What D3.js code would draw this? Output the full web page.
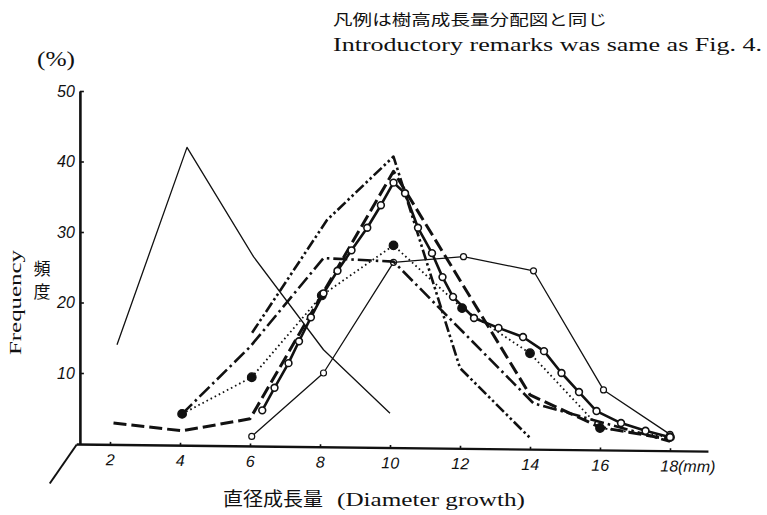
<!DOCTYPE html>
<html>
<head>
<meta charset="utf-8">
<script src="https://cdn.jsdelivr.net/npm/d3@7"></script>
<style>
  body { margin: 0; background: #fff; }
  text { fill: #111; }
</style>
</head>
<body>
<div class="svgWrapper"></div>
<script>
// Data //
const xTicks = [2, 4, 6, 8, 10, 12, 14, 16, 18];
const yTicks = [10, 20, 30, 40, 50];

// thin solid, no markers
const thinPeakX = [2.2, 4.2, 6.1, 8.1, 10.0];
const thinPeakY = [14, 42, 26.5, 13.3, 4.3];

// thin solid, small open circles
const thinCircX = [6.05, 8.1, 10.1, 12.1, 14.1, 16.1, 18.0];
const thinCircY = [1.0, 10.0, 25.7, 26.5, 24.5, 7.6, 1.3];

// bold solid, open circles
const boldCircX = [6.35, 6.7, 7.1, 7.4, 7.74, 8.1, 8.5, 8.9, 9.35, 9.74, 10.1, 10.43,
  10.8, 11.2, 11.5, 11.8, 12.4, 13.1, 13.8, 14.4, 14.9, 15.4, 15.9, 16.6, 17.3, 18.0];
const boldCircY = [4.7, 7.9, 11.4, 14.5, 17.9, 21.3, 24.5, 27.4, 30.6, 33.8, 37.0, 35.5,
  30.6, 27.0, 23.6, 20.8, 17.8, 16.4, 15.1, 13.1, 10.0, 7.3, 4.6, 2.9, 1.8, 0.9];

// dotted, filled circles
const dottedX = [4.06, 6.05, 8.05, 10.1, 12.06, 14.0, 16.0, 18.0];
const dottedY = [4.2, 9.4, 21.0, 28.1, 19.2, 12.8, 2.2, 0.9];

// dash - dot - dot
const dashDotDotX = [6.06, 8.2, 10.1, 12.0, 14.0];
const dashDotDotY = [15.7, 31.7, 40.7, 10.7, 0.8];

// dash - dot
const dashDotX = [4.06, 6.0, 8.1, 10.1, 14.1, 18.0];
const dashDotY = [4.2, 13.7, 26.3, 25.8, 5.7, 0.3];

// long dash
const longDashX = [2.1, 4.06, 6.0, 10.1, 14.0, 16.0, 18.0];
const longDashY = [2.9, 1.8, 3.5, 38.6, 6.9, 2.3, 0.6];

// Styles //
const svgStyles = { w: 767, h: 515 };
const serif = "'Liberation Serif', 'DejaVu Serif', serif";
const cjk = "'Noto Sans CJK JP', sans-serif";
const numFont = "'Liberation Sans', 'DejaVu Sans', sans-serif";

const seriesList = [
  { x: thinPeakX, y: thinPeakY, width: 1.3, dash: null, marker: null },
  { x: thinCircX, y: thinCircY, width: 1.3, dash: null, marker: "smallOpen" },
  { x: longDashX, y: longDashY, width: 3, dash: "13,5", marker: null },
  { x: dashDotX, y: dashDotY, width: 2.6, dash: "14,4,2.5,4", marker: null },
  { x: dashDotDotX, y: dashDotDotY, width: 2.6, dash: "11,3,2.5,3,2.5,3", marker: null },
  { x: dottedX, y: dottedY, width: 1.8, dash: "1.6,3", marker: "filled" },
  { x: boldCircX, y: boldCircY, width: 2.6, dash: null, marker: "open" }
];

// Scales //
const xScale = d3.scaleLinear().domain([0, 20]).range([40, 740]);
const yScale = d3.scaleLinear().domain([0, 50]).range([443.5, 91]);
const axisX = 1.14; // where the vertical axis stands

let svg = d3
  .select(".svgWrapper")
  .append("svg")
  .attr("width", svgStyles.w)
  .attr("height", svgStyles.h);

svg.append("rect").attr("width", svgStyles.w).attr("height", svgStyles.h).attr("fill", "#fff");

// Y axis
const yAxis = d3
  .axisLeft(yScale)
  .tickValues(yTicks)
  .tickSize(-4)
  .tickSizeOuter(0)
  .tickPadding(5);

const yG = svg
  .append("g")
  .attr("transform", `translate(${xScale(axisX)}, 0)`)
  .call(yAxis);
yG.select(".domain").attr("stroke", "#111").attr("stroke-width", 2.6);
yG.selectAll(".tick line").attr("stroke", "#111").attr("stroke-width", 1.6);
yG.selectAll(".tick text")
  .attr("font-family", numFont)
  .attr("font-style", "italic")
  .attr("font-size", 16)
  .attr("fill", "#111");

// X axis (slightly tilted, as in the print)
const xAxis = d3
  .axisBottom(xScale)
  .tickValues(xTicks)
  .tickSize(-3)
  .tickPadding(9)
  .tickFormat(d => d);

const x0 = xScale(1.05);
const xG = svg
  .append("g")
  .attr("transform", `translate(0, ${yScale(0) + 1}) rotate(0.65, ${x0}, 0)`)
  .call(xAxis);
xG.select(".domain").remove();
xG.append("line")
  .attr("x1", x0)
  .attr("x2", xScale(19.1))
  .attr("stroke", "#111")
  .attr("stroke-width", 2.4);
xG.selectAll(".tick line").attr("stroke", "#111").attr("stroke-width", 1.6);
xG.selectAll(".tick text")
  .attr("font-family", numFont)
  .attr("font-style", "italic")
  .attr("font-size", 16)
  .attr("fill", "#111");
xG.selectAll(".tick text")
  .filter(d => d === 18)
  .attr("text-anchor", "start")
  .attr("x", -10)
  .text("18(mm)");

// oblique line from the origin
svg
  .append("line")
  .attr("x1", x0)
  .attr("y1", yScale(0) + 1)
  .attr("x2", x0 - 27)
  .attr("y2", yScale(0) + 40)
  .attr("stroke", "#111")
  .attr("stroke-width", 2);

// define lines
const line = d3
  .line()
  .x(d => xScale(d[0]))
  .y(d => yScale(d[1]));

const chart = svg.append("g").attr("class", "chart");

seriesList.forEach(s => {
  const pts = s.x.map((v, i) => [v, s.y[i]]);
  chart
    .append("path")
    .datum(pts)
    .attr("d", line)
    .attr("fill", "none")
    .attr("stroke", "#111")
    .attr("stroke-width", s.width)
    .attr("stroke-linejoin", "round")
    .attr("stroke-dasharray", s.dash);

  if (s.marker) {
    chart
      .selectAll(null)
      .data(pts)
      .enter()
      .append("circle")
      .attr("cx", d => xScale(d[0]))
      .attr("cy", d => yScale(d[1]))
      .attr("r", s.marker === "filled" ? 4.3 : s.marker === "open" ? 3.4 : 3)
      .attr("fill", s.marker === "filled" ? "#111" : "#fff")
      .attr("stroke", "#111")
      .attr("stroke-width", s.marker === "open" ? 1.6 : 1.2);
  }
});

// define titles
svg
  .append("text")
  .attr("x", 333)
  .attr("y", 25)
  .attr("font-family", cjk)
  .attr("font-size", 15)
  .attr("textLength", 274)
  .attr("lengthAdjust", "spacingAndGlyphs")
  .text("凡例は樹高成長量分配図と同じ");

svg
  .append("text")
  .attr("x", 333)
  .attr("y", 51)
  .attr("font-family", serif)
  .attr("font-size", 19)
  .attr("textLength", 429)
  .attr("lengthAdjust", "spacingAndGlyphs")
  .text("Introductory remarks was same as Fig. 4.");

svg
  .append("text")
  .attr("x", 37)
  .attr("y", 66)
  .attr("font-family", serif)
  .attr("font-size", 20)
  .attr("textLength", 38)
  .attr("lengthAdjust", "spacingAndGlyphs")
  .text("(%)");

// define Y axis titles
svg
  .selectAll(null)
  .data(["頻", "度"])
  .enter()
  .append("text")
  .attr("x", 42)
  .attr("y", (d, i) => 275 + i * 23)
  .attr("text-anchor", "middle")
  .attr("font-family", cjk)
  .attr("font-size", 17)
  .text(d => d);

svg
  .append("text")
  .attr("transform", "translate(21, 355) rotate(-90)")
  .attr("font-family", serif)
  .attr("font-size", 16)
  .attr("textLength", 105)
  .attr("lengthAdjust", "spacingAndGlyphs")
  .text("Frequency");

// define X axis title
svg
  .append("text")
  .attr("x", 223)
  .attr("y", 506)
  .attr("font-family", cjk)
  .attr("font-size", 19)
  .attr("textLength", 100)
  .attr("lengthAdjust", "spacingAndGlyphs")
  .text("直径成長量");

svg
  .append("text")
  .attr("x", 337)
  .attr("y", 506)
  .attr("font-family", serif)
  .attr("font-size", 19)
  .attr("textLength", 188)
  .attr("lengthAdjust", "spacingAndGlyphs")
  .text("(Diameter growth)");
</script>
</body>
</html>
